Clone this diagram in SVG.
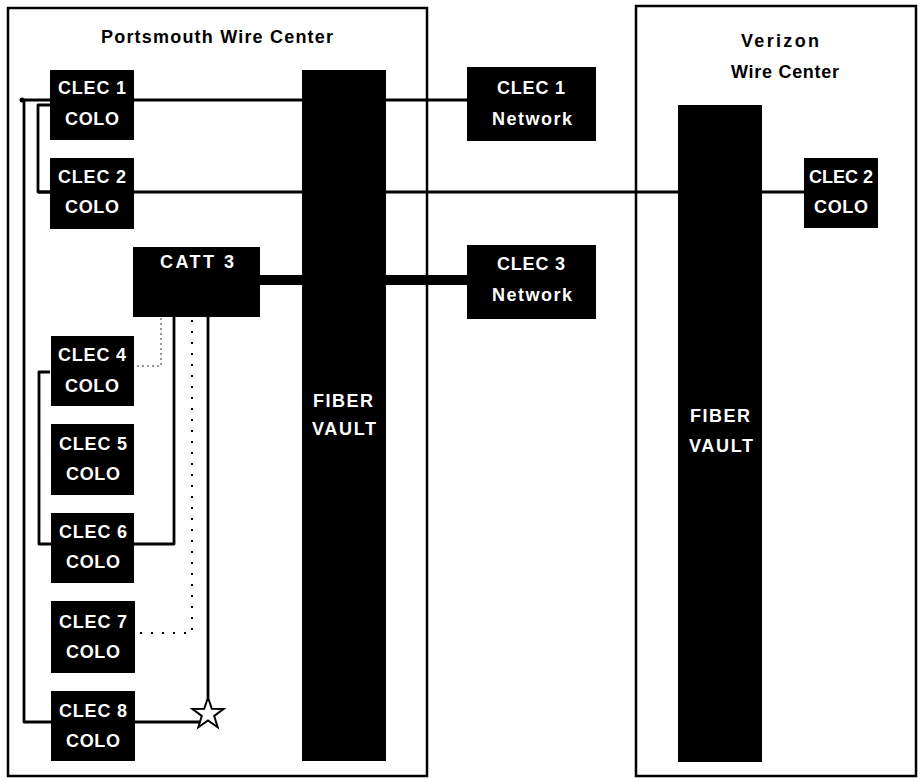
<svg xmlns="http://www.w3.org/2000/svg" width="921" height="779" viewBox="0 0 921 779">
<style>
.wc{fill:none;stroke:#000;stroke-width:2.5}
.box{fill:#000}
.lbl{fill:#fff;font-family:"Liberation Sans",Arial,sans-serif;font-weight:bold;font-size:18px;text-anchor:middle}
.vlt{fill:#fff;font-family:"Liberation Sans",Arial,sans-serif;font-weight:bold;font-size:18px;text-anchor:middle}
.ttl{fill:#000;font-family:"Liberation Sans",Arial,sans-serif;font-weight:bold;font-size:18px;text-anchor:middle}
.ln{fill:none;stroke:#000;stroke-width:2.8;stroke-linejoin:round}
.thick{fill:none;stroke:#000;stroke-width:10}
.dot{fill:none;stroke:#000;stroke-width:2;stroke-dasharray:2 9}
.dotg{fill:none;stroke:#777;stroke-width:1.5;stroke-dasharray:2 3}
</style>
<rect x="0" y="0" width="921" height="779" fill="#fff"/>
<g id="portsmouth">
<rect class="wc" x="8" y="8" width="419" height="768"/>
<text class="ttl" x="217" y="43" textLength="232" lengthAdjust="spacing">Portsmouth Wire Center</text>
</g>
<g id="verizon">
<rect class="wc" x="636" y="6" width="280" height="770"/>
<text class="ttl" x="780" y="47" textLength="78" lengthAdjust="spacing">Verizon</text>
<text class="ttl" x="785" y="78" textLength="108" lengthAdjust="spacing">Wire Center</text>
</g>
<g id="vault1">
<rect class="box" x="302" y="70" width="84" height="691"/>
<text class="vlt" x="343" y="407" textLength="60" lengthAdjust="spacing">FIBER</text>
<text class="vlt" x="344" y="435" textLength="64" lengthAdjust="spacing">VAULT</text>
</g>
<g id="vault2">
<rect class="box" x="678" y="105" width="84" height="657"/>
<text class="vlt" x="720" y="422" textLength="60" lengthAdjust="spacing">FIBER</text>
<text class="vlt" x="721" y="452" textLength="64" lengthAdjust="spacing">VAULT</text>
</g>
<g id="connectors">
<circle cx="22" cy="100" r="2.5" fill="#000"/>
<path class="ln" d="M22,100 H467"/>
<path class="ln" d="M24,100 V722 H200"/>
<path class="ln" d="M50,105 H38 V192 H50"/>
<path class="ln" d="M38,192 H804"/>
<path class="thick" d="M260,280 H467"/>
<path class="ln" d="M50,372 H39 V544 H174 V317"/>
<path class="ln" d="M208,317 V698"/>
<path class="dot" d="M192,320 V633 H136"/>
<path class="dotg" d="M161,288 V366 H134"/>
<polygon points="208,697.5 211.8,708.7 223.7,708.9 214.2,716 217.7,727.3 208,720.5 198.3,727.3 201.8,716 192.3,708.9 204.2,708.7" fill="#fff" stroke="#000" stroke-width="2" stroke-linejoin="miter"/>
</g>
<g id="clec1colo"><rect class="box" x="50" y="70" width="84" height="70"/><text class="lbl" x="92" y="94" textLength="68" lengthAdjust="spacing">CLEC 1</text><text class="lbl" x="92" y="125" textLength="54" lengthAdjust="spacing">COLO</text></g>
<g id="clec2colo"><rect class="box" x="50" y="158" width="84" height="71"/><text class="lbl" x="92" y="183" textLength="68" lengthAdjust="spacing">CLEC 2</text><text class="lbl" x="92" y="213" textLength="54" lengthAdjust="spacing">COLO</text></g>
<g id="catt3"><rect class="box" x="133" y="247" width="127" height="70"/><text class="lbl" x="197" y="268" textLength="74" lengthAdjust="spacing">CATT 3</text></g>
<g id="clec4colo"><rect class="box" x="51" y="336" width="83" height="70"/><text class="lbl" x="92" y="361" textLength="68" lengthAdjust="spacing">CLEC 4</text><text class="lbl" x="92" y="392" textLength="54" lengthAdjust="spacing">COLO</text></g>
<g id="clec5colo"><rect class="box" x="51" y="424" width="83" height="71"/><text class="lbl" x="93" y="450" textLength="68" lengthAdjust="spacing">CLEC 5</text><text class="lbl" x="93" y="480" textLength="54" lengthAdjust="spacing">COLO</text></g>
<g id="clec6colo"><rect class="box" x="51" y="513" width="83" height="70"/><text class="lbl" x="93" y="538" textLength="68" lengthAdjust="spacing">CLEC 6</text><text class="lbl" x="93" y="568" textLength="54" lengthAdjust="spacing">COLO</text></g>
<g id="clec7colo"><rect class="box" x="51" y="601" width="84" height="72"/><text class="lbl" x="93" y="628" textLength="68" lengthAdjust="spacing">CLEC 7</text><text class="lbl" x="93" y="658" textLength="54" lengthAdjust="spacing">COLO</text></g>
<g id="clec8colo"><rect class="box" x="51" y="691" width="84" height="70"/><text class="lbl" x="93" y="717" textLength="68" lengthAdjust="spacing">CLEC 8</text><text class="lbl" x="93" y="747" textLength="54" lengthAdjust="spacing">COLO</text></g>
<g id="clec1net"><rect class="box" x="467" y="67" width="129" height="74"/><text class="lbl" x="531" y="94" textLength="68" lengthAdjust="spacing">CLEC 1</text><text class="lbl" x="532" y="125" textLength="80" lengthAdjust="spacing">Network</text></g>
<g id="clec3net"><rect class="box" x="467" y="245" width="129" height="74"/><text class="lbl" x="531" y="270" textLength="68" lengthAdjust="spacing">CLEC 3</text><text class="lbl" x="532" y="301" textLength="80" lengthAdjust="spacing">Network</text></g>
<g id="clec2verizon"><rect class="box" x="804" y="158" width="74" height="70"/><text class="lbl" x="841" y="183" textLength="64" lengthAdjust="spacing">CLEC 2</text><text class="lbl" x="841" y="213" textLength="54" lengthAdjust="spacing">COLO</text></g>
</svg>
